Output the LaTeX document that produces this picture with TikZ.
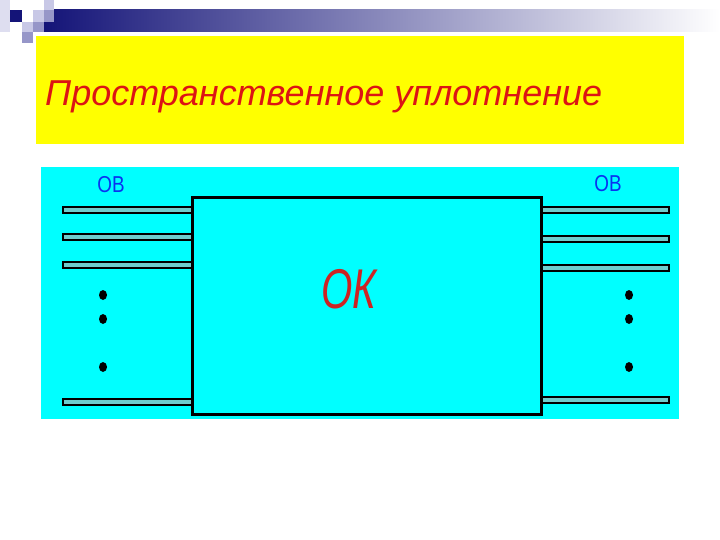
\documentclass[tikz,border=0pt]{standalone}
\usepackage{fontspec}
\setmainfont{Liberation Sans}
\definecolor{navy}{RGB}{20,20,120}
\definecolor{lav}{RGB}{200,200,230}
\definecolor{midlav}{RGB}{150,150,200}
\definecolor{titlered}{RGB}{220,20,20}
\definecolor{okred}{RGB}{205,35,35}
\definecolor{obblue}{RGB}{10,50,240}
\definecolor{fiberfill}{RGB}{110,205,205}
\definecolor{rgbcyan}{RGB}{0,255,255}
\definecolor{rgbyellow}{RGB}{255,255,0}
\tikzset{
  fiber/.style={draw=black, line width=1.6pt, fill=fiberfill},
  dotmark/.style={fill=black, draw=none},
  oblabel/.style={text=obblue, font=\fontsize{23}{26}\selectfont, xscale=0.82, inner sep=0pt},
}
\begin{document}
\begin{tikzpicture}[x=1pt,y=-1pt]
\useasboundingbox (0,0) rectangle (720,540);
\fill[white] (0,0) rectangle (720,540);
% top decoration
\shade[left color=navy, right color=white] (44,10) rectangle (720,32);
\fill[lav!60] (0,0) rectangle (10,32);
\fill[lav] (44,0) rectangle (54,10);
\fill[navy] (10,10) rectangle (22,22);
\fill[lav] (33,10) rectangle (44,22);
\fill[midlav] (44,10) rectangle (54,22);
\fill[lav] (22,22) rectangle (33,32);
\fill[midlav] (33,22) rectangle (44,32);
\fill[midlav] (22,32) rectangle (33,43);
% title
\fill[rgbyellow] (36,36) rectangle (684,144);
\node[anchor=base west, text=titlered, font=\itshape\fontsize{36}{40}\selectfont, inner sep=0pt] (title) at (45,106) {Пространственное уплотнение};
% cyan panel
\fill[rgbcyan] (41,167) rectangle (679,419);
% fibers left
\foreach \yy in {210,237,265,402} {
  \draw[fiber] (63,\yy-3) rectangle (192,\yy+3);
}
% fibers right
\foreach \yy in {210,239,268,400} {
  \draw[fiber] (541,\yy-3) rectangle (669,\yy+3);
}
% main box
\node[draw=black, line width=3pt, fill=rgbcyan, minimum width=349pt, minimum height=216pt, inner sep=0pt] (ok) at (366.5,306) {};
\node[text=okred, font=\itshape\fontsize{56}{60}\selectfont, xscale=0.72, inner sep=0pt] (oklabel) at (349,289) {ОК};
% labels
\node[oblabel] (obl) at (111,185) {ОВ};
\node[oblabel] (obr) at (608,184) {ОВ};
% dots
\foreach \yy in {295,319,367} {
  \fill[dotmark] (103,\yy) ellipse (4pt and 5pt);
  \fill[dotmark] (629,\yy) ellipse (4pt and 5pt);
}
\end{tikzpicture}
\end{document}
